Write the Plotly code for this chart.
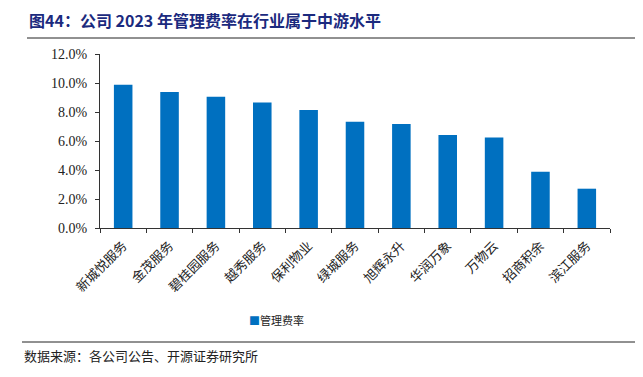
import plotly.graph_objects as go

categories = ["新城悦服务", "金茂服务", "碧桂园服务", "越秀服务", "保利物业", "绿城服务",
              "旭辉永升", "华润万象", "万物云", "招商积余", "滨江服务"]
mgmt_rate = [9.88, 9.38, 9.06, 8.66, 8.14, 7.33, 7.17, 6.41, 6.25, 3.88, 2.71]
series_name = "管理费率"
title_text = "图44：公司 2023 年管理费率在行业属于中游水平"
source_text = "数据来源：各公司公告、开源证券研究所"

OFF = 8  # default page body margin
W, H = 643 - OFF, 377 - OFF
# target window-pixel positions of the plot area
PL, PR, PT, PB = 100, 610, 54, 228
L, T = PL - OFF, PT - OFF
R = W - (PR - OFF)
B = H - (PB - OFF)
ph = H - T - B
pw = W - L - R

def py(px):  # window px -> paper y
    return ((PB) - px) / ph

def pxx(px):  # window px -> paper x
    return (px - PL) / pw

fig = go.Figure()
fig.add_trace(go.Bar(x=categories, y=mgmt_rate, name=series_name,
                     marker=dict(color="#0070C0", line=dict(width=0)), width=0.4))

serif = "Liberation Serif, Times New Roman, serif"
cjk = "Noto Sans CJK SC"

fig.update_layout(
    width=W, height=H,
    margin=dict(l=L, r=R, t=T, b=B, autoexpand=False),
    paper_bgcolor="white", plot_bgcolor="white",
    showlegend=False,
    xaxis=dict(showline=True, linecolor="#333", linewidth=1, ticks="outside", ticklen=4,
               tickcolor="#333", tickson="boundaries", tickangle=-45,
               ticklabelstandoff=4,
               tickfont=dict(family=cjk, size=13, color="#222"), showgrid=False,
               automargin=False),
    yaxis=dict(range=[0, 12], dtick=2, tickformat=".1f", ticksuffix="%", showline=True,
               linecolor="#333", linewidth=1, ticks="outside", ticklen=4, tickcolor="#333",
               ticklabelstandoff=5,
               tickfont=dict(family=serif, size=14, color="#222"), showgrid=False,
               automargin=False),
    shapes=[
        dict(type="line", xref="paper", yref="paper", x0=pxx(27), x1=pxx(643), y0=py(38), y1=py(38),
             line=dict(color="#222", width=1)),
        dict(type="line", xref="paper", yref="paper", x0=pxx(22), x1=pxx(643), y0=py(342), y1=py(342),
             line=dict(color="#222", width=1)),
    ],
    annotations=[
        dict(text="<b>" + title_text + "</b>", xref="paper", yref="paper", x=pxx(27), y=py(20),
             xanchor="left", yanchor="middle", showarrow=False,
             font=dict(family=cjk, size=16, color="#1B2A7E")),
        dict(text='<span style="color:#0070C0">■</span>' + series_name, xref="paper", yref="paper",
             x=pxx(247), y=py(320), xanchor="left", yanchor="middle", showarrow=False,
             font=dict(family=cjk, size=11, color="#222")),
        dict(text=source_text, xref="paper", yref="paper", x=pxx(22), y=py(355),
             xanchor="left", yanchor="middle", showarrow=False,
             font=dict(family=cjk, size=13, color="#222")),
    ],
)

fig.write_html("out.html")
